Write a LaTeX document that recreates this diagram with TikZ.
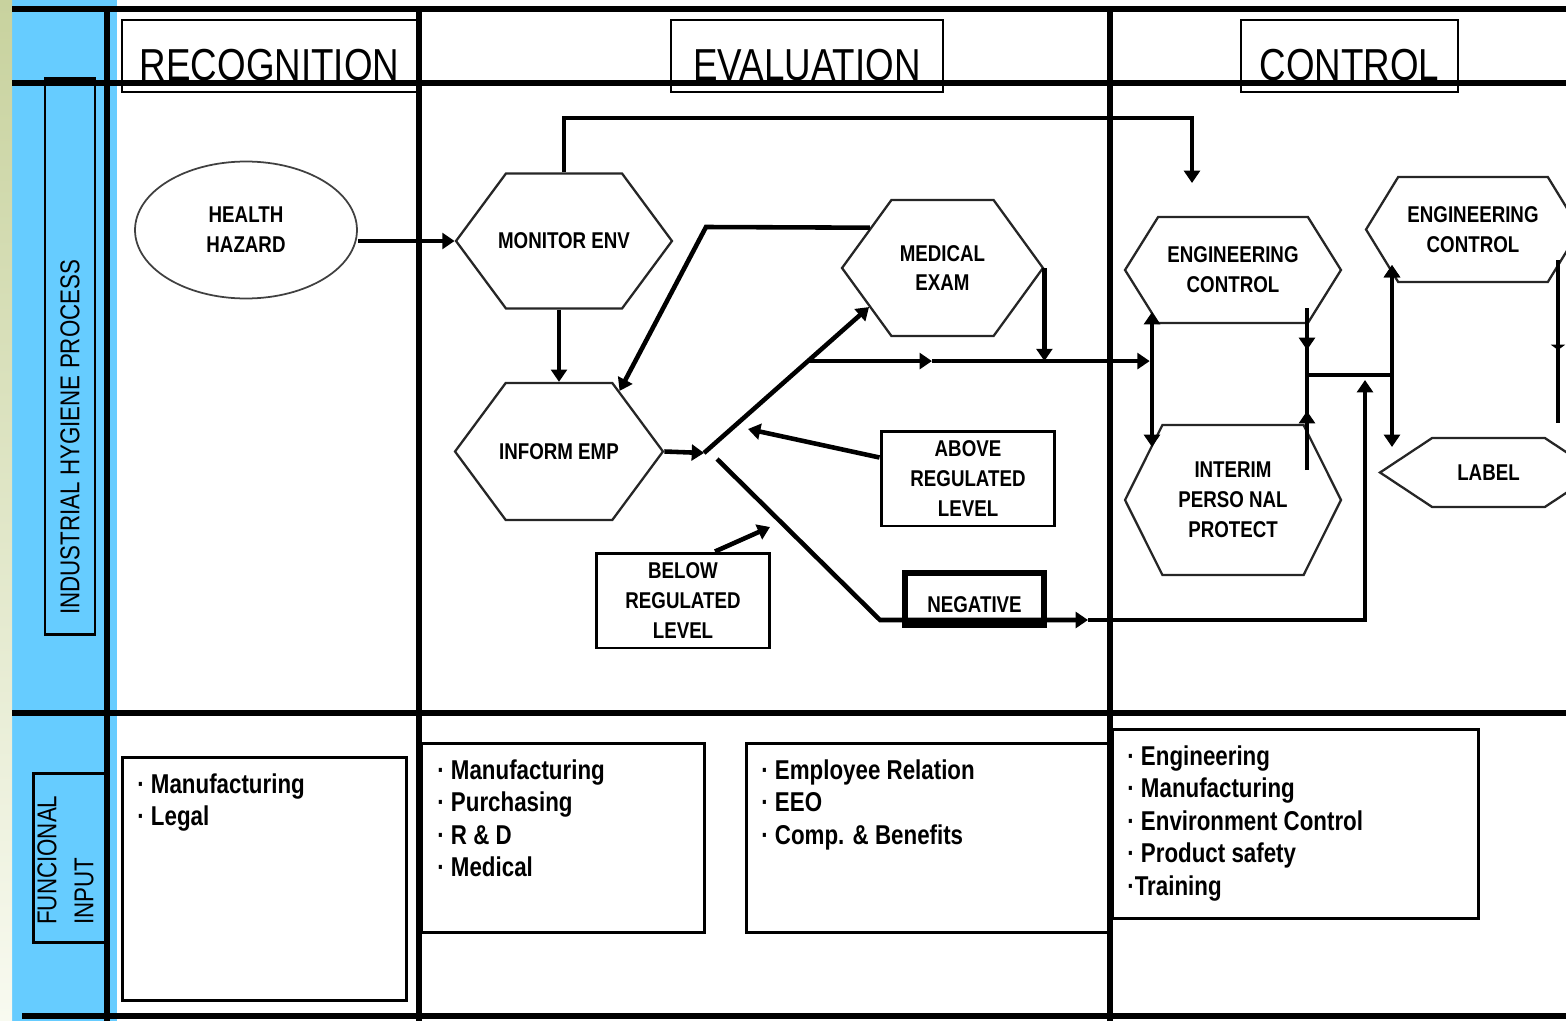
\documentclass[tikz,border=0pt]{standalone}
\usepackage{fontspec}
\newfontfamily\narrowfont{Liberation Sans}[FakeStretch=0.82]
\usetikzlibrary{shapes.geometric, shapes.symbols, arrows.meta, calc}
\definecolor{laneblue}{RGB}{102,204,255}
\definecolor{stripA}{RGB}{200,210,158}
\definecolor{stripB}{RGB}{248,250,240}
\newcommand\hexfont{\narrowfont\fontsize{13}{17}\selectfont\bfseries}

\begin{document}
\begin{tikzpicture}[x=0.02cm, y=-0.02cm]
    \tikzset{hexa/.style={shape=signal, signal to=east and west, draw=black!85,
                          line width=1.3pt, inner sep=0pt, align=center, font=\hexfont},
             lvl/.style={rectangle, draw, line width=1.7pt, minimum width=3.48cm,
                         minimum height=1.9cm, inner sep=0pt, align=center, font=\hexfont},
             title/.style={rectangle, draw, line width=1.5pt, minimum height=1.44cm,
                           text height=1cm, text depth=0pt, inner sep=0pt,
                           font=\narrowfont\fontsize{25.5}{30}\selectfont},
             inbox/.style={rectangle, draw, line width=1.7pt, inner sep=0pt},
             items/.style={anchor=north west, align=left, inner sep=0pt,
                           font=\narrowfont\fontsize{15.5}{18.5}\selectfont\bfseries},
             side/.style={rotate=90, anchor=west, inner sep=0pt,
                          font=\narrowfont\fontsize{15.5}{21}\selectfont},
             grid/.style={line width=2.9pt},
             wire/.style={line width=2.6pt},
             flow/.style={wire, -{Triangle[length=7pt,width=9pt]}},
             dflow/.style={wire, {Triangle[length=7pt,width=9pt]}-{Triangle[length=7pt,width=9pt]}}}

    % background and lanes
    \useasboundingbox (0,0) rectangle (1566,1021);
    \clip (0,0) rectangle (1566,1021);
    \fill[laneblue] (12,0) rectangle (117,1021);
    \shade[top color=stripA, bottom color=stripB] (0,0) rectangle (12,1021);
    \foreach \yy in {9,83,713}
      \draw[grid] (12,\yy) -- (1566,\yy);
    \draw[grid] (22,1016) -- (1566,1016);
    \foreach \xx in {107,419,1110}
      \draw[grid] (\xx,9) -- (\xx,1021);

    % headings
    \node[title, minimum width=5.9cm]  (trec)  at (269.5,56)  {RECOGNITION};
    \node[title, minimum width=5.44cm] (teval) at (807,56)    {EVALUATION};
    \node[title, minimum width=4.34cm] (tctl)  at (1349.5,56) {CONTROL};

    \node[inbox, minimum width=1cm, minimum height=11.14cm] (ihpbox) at (70,356.5) {};
    \node[side] (ihp) at (70,615) {INDUSTRIAL HYGIENE PROCESS};
    \node[inbox, minimum width=1.48cm, minimum height=3.4cm] (fibox) at (70,858) {};
    \node[side, align=left] (fi) at (65.5,925) {FUNCIONAL\\INPUT};

    % process steps
    \node[ellipse, draw=black!75, line width=1pt, minimum width=4.44cm, minimum height=2.74cm,
          inner sep=0pt, align=center, font=\hexfont] (hh) at (246,230) {HEALTH\\HAZARD};
    \node[hexa, inner xsep=-0.16cm, minimum width=4.32cm, minimum height=2.7cm, signal pointer angle=107] (mon) at (564,241) {MONITOR ENV};
    \node[hexa, inner xsep=-0.16cm, minimum width=4.16cm, minimum height=2.74cm, signal pointer angle=107] (inf) at (559,451.5) {INFORM EMP};
    \node[hexa, minimum width=4.02cm, minimum height=2.72cm, signal pointer angle=108] (med) at (942.5,268) {MEDICAL\\EXAM};
    \node[hexa, minimum width=4.32cm, minimum height=2.12cm, signal pointer angle=116] (ec1) at (1233,270) {ENGINEERING\\CONTROL};
    \node[hexa, minimum width=4.32cm, minimum height=3cm, signal pointer angle=127] (ipp) at (1233,500) {INTERIM\\PERSO NAL\\PROTECT};
    \node[hexa, minimum width=4.28cm, minimum height=2.1cm, signal pointer angle=117] (ec2) at (1473,229.5) {ENGINEERING\\CONTROL};
    \node[hexa, minimum width=4.34cm, minimum height=1.38cm, signal pointer angle=67] (lab) at (1488.5,472.5) {LABEL};

    \node[lvl] (abv) at (968,478.5) {ABOVE\\REGULATED\\LEVEL};
    \node[lvl] (blw) at (683,600.5) {BELOW\\REGULATED\\LEVEL};
    \node[lvl, line width=3pt, minimum width=2.78cm, minimum height=1.04cm,
          text height=0.52cm, text depth=0pt] (neg) at (974.5,599) {NEGATIVE};

    % functional input lists
    \node[inbox, minimum width=5.7cm, minimum height=4.88cm] (fin1) at (264.5,879) {};
    \node[inbox, minimum width=5.68cm, minimum height=3.8cm] (fin2) at (563,838) {};
    \node[inbox, minimum width=7.28cm, minimum height=3.8cm] (fin3) at (928,838) {};
    \node[inbox, minimum width=7.34cm, minimum height=3.8cm] (fin4) at (1295.5,824) {};
    \node[items] (fin1t) at (137,773) {· Manufacturing\\· Legal};
    \node[items] (fin2t) at (437,759) {· Manufacturing\\· Purchasing\\· R \& D\\· Medical};
    \node[items] (fin3t) at (761,759) {· Employee Relation\\· EEO\\· Comp. \& Benefits};
    \node[items] (fin4t) at (1127,745) {· Engineering\\· Manufacturing\\· Environment Control\\· Product safety\\·Training};

    % junction points
    \coordinate (loop) at (1192,118);
    \coordinate (ecin) at (1192,183);
    \coordinate (fbk)  at (706,227);
    \coordinate (jn)   at (704,453);
    \coordinate (jn2)  at (717,459);
    \coordinate (br)   at ($(jn)!0.63!(med.208)$);
    \coordinate (mida) at ($(br)+(124,0)$);
    \coordinate (kn)   at (880,620);
    \coordinate (midb) at (1088,620);
    \coordinate (rise) at (1365,620);
    \coordinate (rtip) at (1365,380);
    \coordinate (atip) at (748,429);
    \coordinate (btip) at (770,527);
    \coordinate (barLt) at (1152,312);
    \coordinate (barLb) at (1152,447);
    \coordinate (barMt) at (1307,308);
    \coordinate (barMd) at (1307,350);
    \coordinate (barMj) at (1307,375);
    \coordinate (barMu) at (1307,411);
    \coordinate (barMb) at (1307,470);
    \coordinate (barRt) at (1392,265);
    \coordinate (barRb) at (1392,447);
    \coordinate (edgeT) at (1558,260);
    \coordinate (edgeM) at (1558,350);
    \coordinate (edgeB) at (1558,423);

    % connectors
    \draw[flow] (hh.east |- mon.west) -- (mon.west);
    \draw[flow] (mon.north) |- (loop) -- (ecin);
    \draw[flow] (inf.north |- mon.south) -- (inf.north);
    \draw[flow] (med.151) -- (fbk) -- (inf.45);
    \draw[flow] (inf.east) -- (jn);
    \draw[flow] (jn) -- (med.208);
    \draw[flow] (br) -- (mida);
    \draw[flow, shorten >=1.3pt] (mida) -- (mida -| barLt);
    \draw[flow] (med.east) -- (med.east |- br);
    \draw[flow] (jn2) -- (kn) -- (midb);
    \draw[flow] (midb) -- (rise) -- (rtip);
    \draw[flow] ([yshift=0.42cm]abv.west) -- (atip);
    \draw[flow] ([xshift=0.64cm]blw.north) -- (btip);
    \draw[dflow] (barLt) -- (barLb);
    \draw[wire] (barMt) -- (barMb);
    \foreach \a/\b in {barMt/barMd, barMb/barMu, barMj/barRt}
      \draw[flow] (\a) -- (\b |- \a) -- (\b);
    \draw[dflow] (barRt) -- (barRb);
    \draw[wire] (edgeT) -- (edgeB);
    \draw[wire, -{Triangle[length=3pt,width=8pt]}] (edgeT) -- (edgeM);
\end{tikzpicture}
\end{document}
